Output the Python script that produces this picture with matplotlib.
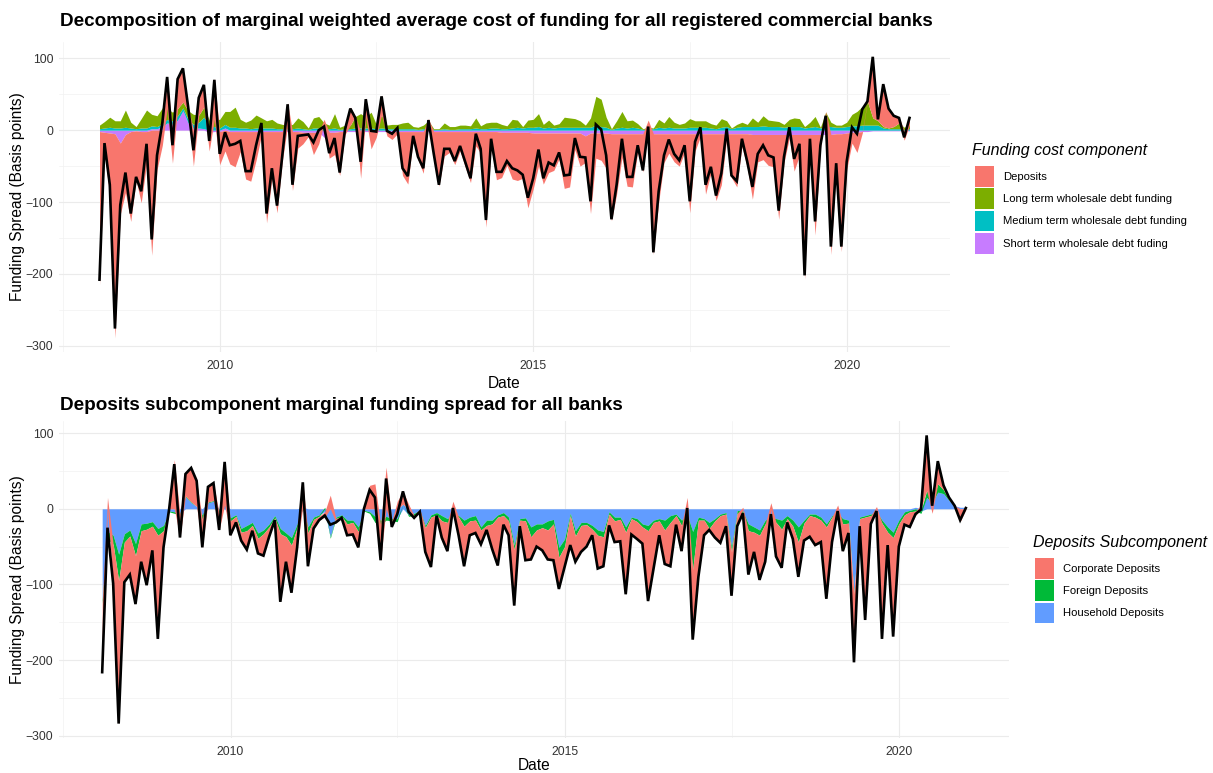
import matplotlib
matplotlib.use("Agg")
import matplotlib.pyplot as plt
import matplotlib.dates as mdates
from matplotlib.patches import Patch
import numpy as np
import pandas as pd

plt.rcParams['font.family'] = ['Liberation Sans', 'DejaVu Sans']

# monthly observations, Jan 2008 - Dec 2020
dates = pd.date_range('2008-01-31', periods=156, freq='ME')

# ---- top panel: funding cost components (basis points) ----
deposits = [
    -213, -27, -90, -284, -99, -81, -125, -69, -99, -45, -174, -55, -21, 44, -46, 41, 47, 6, -50, 24,
    31, -26, 57, -46, -29, -45, -49, -28, -66, -69, -40, -5, -127, -66, -113, -41, 31, -82, -23, -16,
    -6, -31, -16, 5, -36, -31, -61, -4, 25, 0, -65, 27, -24, -8, 28, -6, -11, -3, -61, -73,
    -11, -39, -58, 3, -33, -76, -34, -29, -46, -27, -49, -71, -20, -30, -133, -21, -67, -63, -46, -65,
    -67, -64, -105, -78, -46, -71, -55, -52, -36, -77, -75, -23, -46, -37, -112, -35, -38, -49, -121, -84,
    -33, -73, -74, -25, -53, 10, -168, -95, -40, -27, -39, -45, -26, -110, -24, -4, -84, -55, -93, -71,
    -6, -61, -74, -18, -47, -90, -38, -35, -43, -45, -118, -39, -5, -51, -29, -201, -17, -140, -19, 1,
    -167, -48, -164, -51, -15, -28, -2, 2, 86, 3, 60, 28, 16, 8, -13, 11]
long_term = [
    5, 9, 14, 10, 10, 24, 8, 3, 13, 25, 16, 15, 22, 15, 12, 10, 8, 12, 14, 10,
    14, 8, 10, 12, 18, 22, 28, 12, 8, 12, 18, 14, 10, 12, 8, 6, 5, 6, 14, 10,
    2, 14, 16, 8, 5, 20, 3, 5, 5, 16, 20, 15, 22, 6, 18, 5, 6, 6, 8, 9,
    3, 3, 5, 10, 1, 1, 8, 4, 4, 5, 5, 4, 14, 4, 8, 8, 8, 6, 4, 12,
    10, 2, 10, 11, 18, 5, 10, 4, 5, 14, 13, 12, 9, 3, 13, 40, 38, 14, 1, 10,
    22, 10, 10, 6, 1, 2, 1, 11, 7, 15, 8, 5, 7, 12, 9, 9, 9, 6, 5, 12,
    8, 1, 4, 6, 3, 12, 6, 14, 9, 8, 7, 4, 10, 12, 11, 2, 7, 14, 1, 20,
    6, 3, 3, 6, 16, 20, 26, 33, 10, 6, 2, 1, 3, 8, 3, 5]
medium_term = [
    2, 3, 4, 3, 3, 4, 3, 2, 3, 3, 4, 3, 4, 5, 5, 6, 4, 5, 6, 8,
    16, 6, 5, 3, 5, 4, 4, 3, 3, 2, 3, 3, 3, 3, 2, 2, 2, 2, 3, 2,
    1, 3, 3, 2, 2, 3, 1, 2, 2, 3, 3, 3, 3, 2, 3, 2, 2, 2, 2, 2,
    2, 1, 2, 3, 1, 1, 2, 1, 1, 2, 2, 2, 3, 2, 2, 3, 3, 2, 2, 3,
    4, 3, 4, 4, 5, 3, 4, 3, 4, 4, 4, 4, 4, 4, 4, 7, 5, 4, 1, 3,
    4, 3, 4, 3, 1, 2, 2, 4, 3, 4, 3, 3, 3, 4, 4, 4, 4, 3, 2, 4,
    5, 2, 4, 5, 5, 5, 5, 6, 5, 5, 5, 4, 5, 5, 5, 3, 4, 5, 3, 5,
    5, 4, 4, 5, 6, 6, 7, 7, 7, 7, 3, 2, 2, 2, 1, 2]
short_term = [
    -2, -3, -4, -5, -18, -6, -2, -1, -2, -2, 2, 2, 5, 10, 8, 14, 27, 10, 2, 3,
    2, -3, -2, -2, 3, -2, -2, -2, -2, -2, -2, -2, -2, -2, -2, -2, -2, -2, -2, -3,
    -3, -3, -3, -10, -3, -3, -2, -2, -2, -2, -2, -2, -2, -2, -2, -2, -2, -2, -2, -2,
    -2, -2, -2, -2, -2, -2, -2, -2, -2, -2, -2, -2, -2, -2, -2, -2, -2, -3, -3, -3,
    -3, -3, -3, -4, -4, -4, -4, -4, -4, -4, -4, -4, -4, -8, -4, -4, -4, -4, -5, -5,
    -5, -5, -5, -5, -5, -9, -5, -5, -5, -5, -5, -5, -5, -5, -5, -5, -5, -5, -5, -5,
    -5, -5, -5, -5, -5, -6, -6, -6, -6, -6, -6, -6, -6, -6, -6, -6, -6, -6, -6, -6,
    -6, -5, -5, -4, -3, -3, -2, -2, -1, -1, -1, -1, -1, -1, -1, -1]

# ---- bottom panel: deposit subcomponents (basis points) ----
corporate = [
    -91, 15, -52, -189, -53, -51, -64, -41, -74, -32, -137, -22, 4, 65, -30, 29, 45, 34, -37, 20,
    23, -22, 57, -19, -8, -11, -25, -7, -20, -29, -13, -3, -90, -33, -63, -26, 32, -44, -12, -5,
    -7, 18, -5, -2, -15, -16, -21, 3, 31, 33, -47, 55, -8, 10, 17, 6, -3, 0, -32, -66,
    -1, -22, -38, 10, -24, -53, -19, -17, -19, -6, -33, -64, -12, -19, -74, -8, -52, -30, -22, -30,
    -39, -48, -42, -27, -39, -34, -35, -29, -8, -44, -39, -15, -28, -29, -82, -21, -23, -22, -93, -61,
    -19, -45, -58, -12, -34, 15, -93, -75, -20, -2, -22, -36, -16, -58, -17, 2, -58, -26, -59, -50,
    8, -45, -51, -5, -17, -46, -23, -28, -37, -29, -95, -33, 5, -36, -13, -91, -10, -136, -11, 3,
    -153, -17, -131, -30, -13, -20, -6, 5, 73, -6, 30, 6, 3, 0, -17, -1]
foreign = [
    -5, -10, -12, -35, -11, -8, -16, -9, -8, -6, -9, -7, -1, -2, -2, 1, 1, 0, -6, 1,
    1, -4, 0, -4, -2, -5, -7, -4, -7, -5, -4, -3, -7, -5, -10, -5, 1, -8, -3, -2,
    2, -2, -2, -2, -5, -3, -6, -1, -2, -8, -6, -5, -3, -4, 0, -2, -3, -2, -3, -3,
    -3, -7, -5, -3, -2, -8, -5, -6, -4, -7, -5, -3, -4, -5, -6, -2, -4, -13, -8, -5,
    -12, -6, -13, -10, -3, -7, -4, -3, -5, -7, -7, -3, -5, -3, -7, -2, -4, -4, -7, -3,
    -3, -13, -9, -2, -7, -6, -50, -4, -2, -8, -3, -2, -2, -6, -4, -5, -9, -7, -7, -5,
    -4, -5, -12, -4, -8, -20, -4, -2, -4, -4, -4, -2, -2, -7, -4, -2, -2, -2, -2, -2,
    -4, -7, -7, -5, -4, -2, -3, -3, 9, 2, 11, 5, 1, 0, 0, 0]
household = [
    -120, -30, -35, -60, -33, -28, -46, -20, -19, -17, -26, -22, -3, -4, -6, 16, 8, 3, -8, 8,
    10, -2, 5, -12, -8, -26, -22, -18, -32, -28, -20, -9, -26, -32, -38, -20, 2, -24, -11, -8,
    -4, -37, -11, -8, -15, -15, -24, -2, -4, -10, -15, -10, -13, -13, 6, -8, -6, -2, -22, -8,
    -5, -9, -13, -6, -9, -15, -11, -9, -24, -15, -15, -8, -5, -11, -48, -13, -12, -24, -20, -20,
    -16, -14, -51, -40, -6, -29, -18, -18, -22, -28, -30, -4, -11, -11, -24, -11, -13, -20, -22, -15,
    -13, -15, -9, -7, -15, -8, -30, -11, -13, -18, -13, -7, -5, -51, -2, -3, -20, -24, -28, -15,
    -11, -13, -15, -9, -15, -24, -15, -7, -7, -11, -20, -9, -6, -13, -15, -110, -11, -9, -7, -4,
    -15, -24, -31, -15, -4, -2, 2, -3, 15, 8, 22, 20, 11, 4, 2, 2]

top_names = ['Deposits', 'Long term wholesale debt funding',
             'Medium term wholesale debt funding', 'Short term wholesale debt fuding']
top_colors = ['#F8766D', '#7CAE00', '#00BFC4', '#C77CFF']
bot_names = ['Corporate Deposits', 'Foreign Deposits', 'Household Deposits']
bot_colors = ['#F8766D', '#00BA38', '#619CFF']


def stacked_area(ax, x, series, colors):
    # ggplot-style stacking: positives up, negatives down, last level nearest zero
    pos = np.zeros(len(x))
    neg = np.zeros(len(x))
    lows, highs = [], []
    for v, c in zip(reversed(series), reversed(colors)):
        v = np.asarray(v, dtype=float)
        lo = np.where(v >= 0, pos, neg + v)
        hi = np.where(v >= 0, pos + v, neg)
        pos = np.where(v >= 0, pos + v, pos)
        neg = np.where(v < 0, neg + v, neg)
        ax.fill_between(x, lo, hi, color=c, linewidth=0, zorder=2)
        lows.append(lo)
        highs.append(hi)
    total = np.sum([np.asarray(s, dtype=float) for s in series], axis=0)
    ax.plot(x, total, color='black', lw=1.9, zorder=3, solid_joinstyle='miter')
    lo_all = min(np.min(lows), total.min())
    hi_all = max(np.max(highs), total.max())
    pad = 0.05 * (hi_all - lo_all)
    ax.set_ylim(lo_all - pad, hi_all + pad)


def style(ax):
    span = dates[-1] - dates[0]
    ax.set_xlim(dates[0] - span * 0.05, dates[-1] + span * 0.05)
    ax.set_xticks(pd.to_datetime(['2010-01-01', '2015-01-01', '2020-01-01']))
    ax.set_xticks(pd.to_datetime(['2007-07-01', '2012-07-01', '2017-07-01']), minor=True)
    ax.xaxis.set_major_formatter(mdates.DateFormatter('%Y'))
    ax.set_yticks([-300, -200, -100, 0, 100])
    ax.set_yticks([-250, -150, -50, 50], minor=True)
    ax.grid(which='major', color='#EBEBEB', lw=0.8, zorder=0)
    ax.grid(which='minor', color='#F2F2F2', lw=0.5, zorder=0)
    for s in ax.spines.values():
        s.set_visible(False)
    ax.tick_params(which='both', length=0, labelsize=8.8, labelcolor='#333333')
    ax.tick_params(axis='x', pad=6)
    ax.tick_params(axis='y', pad=4)
    ax.set_axisbelow(True)


W, H = 1213, 773
fig = plt.figure(figsize=(W / 100, H / 100), dpi=100)

ax1 = fig.add_axes([59 / W, 1 - 352 / H, 891 / W, 310 / H])
stacked_area(ax1, dates, [deposits, long_term, medium_term, short_term], top_colors)
style(ax1)

ax2 = fig.add_axes([59 / W, 1 - 738 / H, 950 / W, 317 / H])
stacked_area(ax2, dates, [corporate, foreign, household], bot_colors)
style(ax2)

fig.text(60 / W, 1 - 22 / H,
         'Decomposition of marginal weighted average cost of funding for all registered commercial banks',
         fontsize=13.6, fontweight='bold', va='center', ha='left')
fig.text(60 / W, 1 - 405 / H,
         'Deposits subcomponent marginal funding spread for all banks',
         fontsize=13.6, fontweight='bold', va='center', ha='left')

for yc in (197, 580):
    fig.text(18 / W, 1 - yc / H, 'Funding Spread (Basis points)', rotation=90,
             fontsize=11.2, va='center', ha='center')
fig.text(504 / W, 1 - 384 / H, 'Date', fontsize=11.2, va='center', ha='center')
fig.text(534 / W, 1 - 765 / H, 'Date', fontsize=11.2, va='center', ha='center')

# legends: titles drawn as text, keys as borderless legends
leg_kw = dict(loc='upper left', frameon=False, fontsize=8.1, borderpad=0, borderaxespad=0,
              handlelength=1.7, handleheight=2.45, handletextpad=0.8, labelspacing=0.15)
fig.text(972 / W, 1 - 150 / H, 'Funding cost component', fontsize=11.5, style='italic',
         va='center', ha='left')
h1 = [Patch(facecolor=c, edgecolor='none') for c in top_colors]
fig.legend(h1, top_names, bbox_to_anchor=(975 / W, 1 - 166 / H), **leg_kw)

fig.text(1033 / W, 1 - 543 / H, 'Deposits Subcomponent', fontsize=11.5, style='italic',
         va='center', ha='left')
h2 = [Patch(facecolor=c, edgecolor='none') for c in bot_colors]
fig.legend(h2, bot_names, bbox_to_anchor=(1035 / W, 1 - 558 / H), **leg_kw)

fig.savefig('out.png', dpi=100)
